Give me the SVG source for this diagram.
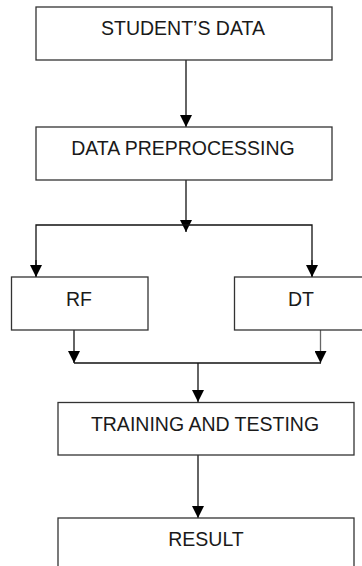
<svg xmlns="http://www.w3.org/2000/svg" width="362" height="566" viewBox="0 0 362 566">
<style>
.box{fill:#fff;stroke:#333;stroke-width:1.3}
.lbl{font-family:"Liberation Sans",Arial,sans-serif;font-size:19.5px;fill:#1a1a1a;text-anchor:middle}
.ln{fill:none;stroke:#111;stroke-width:1.3}
</style>
<defs>
<marker id="ah" viewBox="0 0 12 12" refX="12" refY="6" markerWidth="12" markerHeight="12" markerUnits="userSpaceOnUse" orient="auto">
<path d="M0,0 L12,6 L0,12 Z" fill="#000"/>
</marker>
</defs>
<rect width="362" height="566" fill="#fff"/>
<g id="connectors">
<line class="ln" x1="186" y1="60" x2="186" y2="127" marker-end="url(#ah)"/>
<line class="ln" x1="186" y1="180" x2="186" y2="232" marker-end="url(#ah)"/>
<polyline class="ln" points="36,277 36,225 312,225 312,277" />
<line class="ln" x1="36" y1="260" x2="36" y2="277" marker-end="url(#ah)"/>
<line class="ln" x1="312" y1="260" x2="312" y2="277" marker-end="url(#ah)"/>
<line class="ln" x1="74" y1="330" x2="74" y2="363" marker-end="url(#ah)"/>
<line class="ln" x1="320.5" y1="330" x2="320.5" y2="363" marker-end="url(#ah)" style="stroke:#666"/>
<line class="ln" x1="74" y1="363" x2="321" y2="363"/>
<line class="ln" x1="198" y1="363" x2="198" y2="402" marker-end="url(#ah)"/>
<line class="ln" x1="198" y1="455" x2="198" y2="518" marker-end="url(#ah)"/>
</g>
<g id="students-data">
<rect class="box" x="36" y="7" width="296" height="53"/>
<text class="lbl" x="183" y="35">STUDENT’S DATA</text>
</g>
<g id="data-preprocessing">
<rect class="box" x="36" y="127" width="296" height="53"/>
<text class="lbl" x="183" y="155">DATA PREPROCESSING</text>
</g>
<g id="rf">
<rect class="box" x="11.5" y="277" width="136.5" height="53"/>
<text class="lbl" x="79" y="306">RF</text>
</g>
<g id="dt">
<rect class="box" x="234.5" y="277" width="140" height="53"/>
<text class="lbl" x="301" y="306">DT</text>
</g>
<g id="training-testing">
<rect class="box" x="58" y="402.5" width="296" height="52.5"/>
<text class="lbl" x="205" y="431">TRAINING AND TESTING</text>
</g>
<g id="result">
<rect class="box" x="58" y="518" width="296" height="60"/>
<text class="lbl" x="206" y="546">RESULT</text>
</g>
</svg>
